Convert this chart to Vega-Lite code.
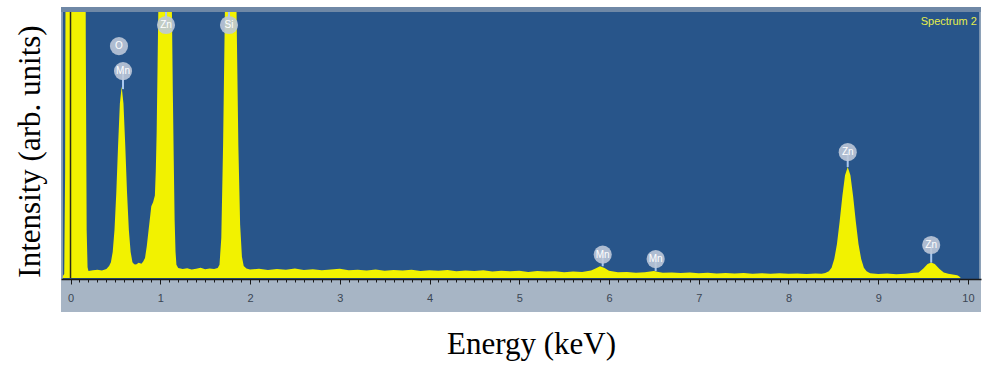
{
  "$schema": "https://vega.github.io/schema/vega-lite/v6.json",
  "width": 920,
  "height": 305,
  "autosize": {"type": "none"},
  "padding": {"left": 61, "top": 7, "right": 3, "bottom": 57},
  "background": "white",
  "config": {"view": {"fill": "#28558a", "stroke": null}},
  "datasets": {
    "spectrum": [
      {"energy": -0.1, "counts": 0}, {"energy": -0.07, "counts": 1.5}, {"energy": -0.06, "counts": 40}, {"energy": -0.05, "counts": 200},
      {"energy": -0.04, "counts": 320}, {"energy": 0.0, "counts": 400}, {"energy": 0.08, "counts": 420}, {"energy": 0.15, "counts": 330},
      {"energy": 0.16, "counts": 250}, {"energy": 0.17, "counts": 90}, {"energy": 0.18, "counts": 18}, {"energy": 0.19, "counts": 4},
      {"energy": 0.2, "counts": 2.6}, {"energy": 0.25, "counts": 2.9}, {"energy": 0.3, "counts": 3.1}, {"energy": 0.35, "counts": 2.8},
      {"energy": 0.4, "counts": 3.4}, {"energy": 0.43, "counts": 4.5}, {"energy": 0.45, "counts": 5.9}, {"energy": 0.47, "counts": 9.8},
      {"energy": 0.49, "counts": 18}, {"energy": 0.51, "counts": 32}, {"energy": 0.53, "counts": 49.8}, {"energy": 0.55, "counts": 65.6},
      {"energy": 0.57, "counts": 72}, {"energy": 0.59, "counts": 65.6}, {"energy": 0.61, "counts": 49.8}, {"energy": 0.63, "counts": 32},
      {"energy": 0.65, "counts": 18}, {"energy": 0.67, "counts": 9.8}, {"energy": 0.69, "counts": 5.9}, {"energy": 0.71, "counts": 5.2},
      {"energy": 0.73, "counts": 5.1}, {"energy": 0.76, "counts": 5.7}, {"energy": 0.79, "counts": 5.4}, {"energy": 0.81, "counts": 6.2},
      {"energy": 0.83, "counts": 7.5},
      {"energy": 0.85, "counts": 12}, {"energy": 0.87, "counts": 18}, {"energy": 0.89, "counts": 24}, {"energy": 0.9, "counts": 27},
      {"energy": 0.92, "counts": 28.5}, {"energy": 0.94, "counts": 31}, {"energy": 0.95, "counts": 40}, {"energy": 0.96, "counts": 55},
      {"energy": 0.97, "counts": 80}, {"energy": 0.98, "counts": 105}, {"energy": 1.0, "counts": 160}, {"energy": 1.04, "counts": 210},
      {"energy": 1.08, "counts": 180}, {"energy": 1.11, "counts": 130}, {"energy": 1.13, "counts": 100}, {"energy": 1.14, "counts": 70},
      {"energy": 1.15, "counts": 45}, {"energy": 1.16, "counts": 22}, {"energy": 1.17, "counts": 10}, {"energy": 1.18, "counts": 5},
      {"energy": 1.2, "counts": 3.8}, {"energy": 1.25, "counts": 3.4}, {"energy": 1.3, "counts": 3.7}, {"energy": 1.35, "counts": 3.2},
      {"energy": 1.4, "counts": 3.5}, {"energy": 1.45, "counts": 3.9}, {"energy": 1.5, "counts": 3.3}, {"energy": 1.55, "counts": 3.6},
      {"energy": 1.6, "counts": 3.4}, {"energy": 1.64, "counts": 3.8}, {"energy": 1.66, "counts": 5}, {"energy": 1.68, "counts": 15},
      {"energy": 1.7, "counts": 50}, {"energy": 1.72, "counts": 100}, {"energy": 1.75, "counts": 200}, {"energy": 1.78, "counts": 250},
      {"energy": 1.82, "counts": 200}, {"energy": 1.85, "counts": 100}, {"energy": 1.87, "counts": 50}, {"energy": 1.89, "counts": 20},
      {"energy": 1.91, "counts": 8}, {"energy": 1.93, "counts": 4.5}, {"energy": 1.96, "counts": 3.6}, {"energy": 2.0, "counts": 3.2},
      {"energy": 2.1, "counts": 3.5}, {"energy": 2.2, "counts": 3.0}, {"energy": 2.3, "counts": 3.4}, {"energy": 2.4, "counts": 3.1},
      {"energy": 2.5, "counts": 3.6}, {"energy": 2.6, "counts": 3.0}, {"energy": 2.7, "counts": 3.3}, {"energy": 2.8, "counts": 2.9},
      {"energy": 2.9, "counts": 3.2}, {"energy": 3.0, "counts": 3.5}, {"energy": 3.1, "counts": 2.9}, {"energy": 3.2, "counts": 3.1},
      {"energy": 3.3, "counts": 2.8}, {"energy": 3.4, "counts": 3.2}, {"energy": 3.5, "counts": 2.7}, {"energy": 3.6, "counts": 3.0},
      {"energy": 3.7, "counts": 2.8}, {"energy": 3.8, "counts": 3.1}, {"energy": 3.9, "counts": 2.6}, {"energy": 4.0, "counts": 2.9},
      {"energy": 4.1, "counts": 2.7}, {"energy": 4.2, "counts": 3.0}, {"energy": 4.3, "counts": 2.5}, {"energy": 4.4, "counts": 2.8},
      {"energy": 4.5, "counts": 2.6}, {"energy": 4.6, "counts": 2.9}, {"energy": 4.7, "counts": 2.4}, {"energy": 4.8, "counts": 2.7},
      {"energy": 4.9, "counts": 2.5}, {"energy": 5.0, "counts": 2.7}, {"energy": 5.1, "counts": 2.3}, {"energy": 5.2, "counts": 2.6},
      {"energy": 5.3, "counts": 2.4}, {"energy": 5.4, "counts": 2.5}, {"energy": 5.5, "counts": 2.2}, {"energy": 5.6, "counts": 2.4},
      {"energy": 5.7, "counts": 2.3}, {"energy": 5.8, "counts": 2.8}, {"energy": 5.85, "counts": 3.6}, {"energy": 5.9, "counts": 4.4},
      {"energy": 5.95, "counts": 3.8}, {"energy": 6.0, "counts": 2.7}, {"energy": 6.1, "counts": 2.2}, {"energy": 6.2, "counts": 2.3},
      {"energy": 6.3, "counts": 2.0}, {"energy": 6.4, "counts": 2.2}, {"energy": 6.5, "counts": 2.6}, {"energy": 6.55, "counts": 2.3},
      {"energy": 6.6, "counts": 2.0}, {"energy": 6.7, "counts": 2.1}, {"energy": 6.8, "counts": 1.9}, {"energy": 6.9, "counts": 2.1},
      {"energy": 7.0, "counts": 1.8}, {"energy": 7.1, "counts": 2.0}, {"energy": 7.2, "counts": 1.7}, {"energy": 7.3, "counts": 1.9},
      {"energy": 7.4, "counts": 1.7}, {"energy": 7.5, "counts": 1.9}, {"energy": 7.6, "counts": 1.6}, {"energy": 7.7, "counts": 1.8},
      {"energy": 7.8, "counts": 1.6}, {"energy": 7.9, "counts": 1.8}, {"energy": 8.0, "counts": 1.6}, {"energy": 8.1, "counts": 1.7},
      {"energy": 8.2, "counts": 1.5}, {"energy": 8.3, "counts": 1.7}, {"energy": 8.37, "counts": 1.6}, {"energy": 8.41, "counts": 1.9},
      {"energy": 8.45, "counts": 2.5}, {"energy": 8.48, "counts": 3.9}, {"energy": 8.51, "counts": 7.1}, {"energy": 8.54, "counts": 12.8},
      {"energy": 8.57, "counts": 21.2}, {"energy": 8.6, "counts": 30.7}, {"energy": 8.63, "counts": 38.6}, {"energy": 8.66, "counts": 41.7},
      {"energy": 8.69, "counts": 38.6}, {"energy": 8.72, "counts": 30.7}, {"energy": 8.75, "counts": 21.2}, {"energy": 8.78, "counts": 12.8},
      {"energy": 8.81, "counts": 7.1}, {"energy": 8.84, "counts": 3.9}, {"energy": 8.87, "counts": 2.5}, {"energy": 8.91, "counts": 1.8},
      {"energy": 9.0, "counts": 1.5}, {"energy": 9.1, "counts": 1.7}, {"energy": 9.2, "counts": 1.4},
      {"energy": 9.3, "counts": 1.6}, {"energy": 9.35, "counts": 1.8}, {"energy": 9.4, "counts": 2.0}, {"energy": 9.45, "counts": 2.1},
      {"energy": 9.5, "counts": 3.5}, {"energy": 9.55, "counts": 5.3}, {"energy": 9.59, "counts": 5.8}, {"energy": 9.63, "counts": 5.3},
      {"energy": 9.68, "counts": 3.5}, {"energy": 9.73, "counts": 2.1}, {"energy": 9.78, "counts": 1.6}, {"energy": 9.83, "counts": 1.3},
      {"energy": 9.88, "counts": 1.0}, {"energy": 9.9, "counts": 0.7}, {"energy": 9.92, "counts": 0}, {"energy": 10.2, "counts": 0}
    ],
    "lines": [
      {"element": "O", "energy": 0.54, "height": 87.2, "peak": 87.2},
      {"element": "Mn", "energy": 0.585, "height": 77.8, "peak": 71},
      {"element": "Zn", "energy": 1.064, "height": 95.1, "peak": 100},
      {"element": "Si", "energy": 1.766, "height": 95.1, "peak": 100},
      {"element": "Mn", "energy": 5.93, "height": 8.8, "peak": 4.4},
      {"element": "Mn", "energy": 6.52, "height": 7.1, "peak": 2.6},
      {"element": "Zn", "energy": 8.66, "height": 47.3, "peak": 41.7},
      {"element": "Zn", "energy": 9.59, "height": 12.4, "peak": 5.8}
    ],
    "one": [{"name": "Spectrum 2"}]
  },
  "layer": [
    {
      "data": {"name": "spectrum"},
      "mark": {"type": "area", "color": "#f2f200", "clip": true, "interpolate": "linear", "opacity": 1},
      "encoding": {
        "x": {
          "field": "energy", "type": "quantitative", "title": "Energy (keV)",
          "scale": {"domain": [-0.106, 10.145], "nice": false, "zero": false},
          "axis": {
            "values": [0,0.1,0.2,0.3,0.4,0.5,0.6,0.7,0.8,0.9,1,1.1,1.2,1.3,1.4,1.5,1.6,1.7,1.8,1.9,2,2.1,2.2,2.3,2.4,2.5,2.6,2.7,2.8,2.9,3,3.1,3.2,3.3,3.4,3.5,3.6,3.7,3.8,3.9,4,4.1,4.2,4.3,4.4,4.5,4.6,4.7,4.8,4.9,5,5.1,5.2,5.3,5.4,5.5,5.6,5.7,5.8,5.9,6,6.1,6.2,6.3,6.4,6.5,6.6,6.7,6.8,6.9,7,7.1,7.2,7.3,7.4,7.5,7.6,7.7,7.8,7.9,8,8.1,8.2,8.3,8.4,8.5,8.6,8.7,8.8,8.9,9,9.1,9.2,9.3,9.4,9.5,9.6,9.7,9.8,9.9,10],
            "tickCount": 200,
            "labelExpr": "abs(datum.value - round(datum.value)) < 0.001 ? format(datum.value, 'd') : ''",
            "tickSize": {"condition": {"test": "abs(datum.value - round(datum.value)) < 0.001", "value": 5}, "value": 3},
            "offset": -33,
            "zindex": 2,
            "grid": false,
            "domainColor": "#1a1a1a", "domainWidth": 1.5,
            "tickColor": "#1a1a1a", "tickWidth": 1,
            "labelColor": "#3b4654", "labelFont": "Liberation Sans", "labelFontSize": 11,
            "labelPadding": 8, "labelOverlap": false, "labelFlush": false, "labelBound": false,
            "titleFont": "Liberation Serif", "titleFontSize": 31, "titleFontWeight": "normal", "titleColor": "black",
            "titleBaseline": "alphabetic", "titleX": 470, "titleY": 74
          }
        },
        "y": {
          "field": "counts", "type": "quantitative", "title": "Intensity (arb. units)",
          "scale": {"domain": [-12.78, 101.88], "nice": false, "zero": false},
          "axis": {
            "domain": false, "ticks": false, "labels": false, "grid": false,
            "titleFont": "Liberation Serif", "titleFontSize": 31, "titleFontWeight": "normal", "titleColor": "black",
            "titleAngle": -90, "titleBaseline": "alphabetic", "titleAlign": "center", "titleX": -22, "titleY": 144
          }
        }
      }
    },
    {
      "data": {"name": "one"},
      "mark": {"type": "rect", "color": "#a7b5c5"},
      "encoding": {
        "x": {"datum": -0.106, "type": "quantitative"},
        "x2": {"datum": 10.145},
        "y": {"datum": -12.78, "type": "quantitative"},
        "y2": {"datum": -0.4}
      }
    },
    {
      "data": {"name": "one"},
      "mark": {"type": "rect", "color": "#6f88a6"},
      "encoding": {
        "x": {"datum": -0.106, "type": "quantitative"},
        "x2": {"datum": 10.145},
        "y": {"datum": 100, "type": "quantitative"},
        "y2": {"datum": 101.88}
      }
    },
    {
      "data": {"name": "one"},
      "mark": {"type": "rect", "color": "#8ea2b8"},
      "encoding": {
        "x": {"datum": -0.106, "type": "quantitative"},
        "x2": {"datum": -0.085},
        "y": {"datum": -0.4, "type": "quantitative"},
        "y2": {"datum": 100}
      }
    },
    {
      "data": {"name": "one"},
      "mark": {"type": "rect", "color": "#8ea2b8"},
      "encoding": {
        "x": {"datum": 10.125, "type": "quantitative"},
        "x2": {"datum": 10.145},
        "y": {"datum": -0.4, "type": "quantitative"},
        "y2": {"datum": 100}
      }
    },
    {
      "data": {"name": "one"},
      "mark": {"type": "rule", "color": "#2a2a18", "strokeWidth": 1.5},
      "encoding": {
        "x": {"datum": 0, "type": "quantitative"},
        "y": {"datum": 0, "type": "quantitative"},
        "y2": {"datum": 100}
      }
    },
    {
      "data": {"name": "lines"},
      "mark": {"type": "rule", "color": "#a9c8ee", "strokeWidth": 2},
      "encoding": {
        "x": {"field": "energy", "type": "quantitative"},
        "y": {"field": "height", "type": "quantitative"},
        "y2": {"field": "peak"}
      }
    },
    {
      "data": {"name": "lines"},
      "mark": {"type": "circle", "size": 330, "color": "#bcc8d8", "opacity": 0.9},
      "encoding": {
        "x": {"field": "energy", "type": "quantitative"},
        "y": {"field": "height", "type": "quantitative"}
      }
    },
    {
      "data": {"name": "lines"},
      "mark": {"type": "text", "color": "white", "font": "Liberation Sans", "fontSize": 10, "align": "center", "baseline": "middle"},
      "encoding": {
        "x": {"field": "energy", "type": "quantitative"},
        "y": {"field": "height", "type": "quantitative"},
        "text": {"field": "element"}
      }
    },
    {
      "data": {"name": "one"},
      "mark": {"type": "text", "color": "#e6ee4a", "font": "Liberation Sans", "fontSize": 11, "align": "right", "baseline": "middle"},
      "encoding": {
        "x": {"datum": 10.1, "type": "quantitative"},
        "y": {"datum": 96.2, "type": "quantitative"},
        "text": {"field": "name"}
      }
    }
  ]
}
